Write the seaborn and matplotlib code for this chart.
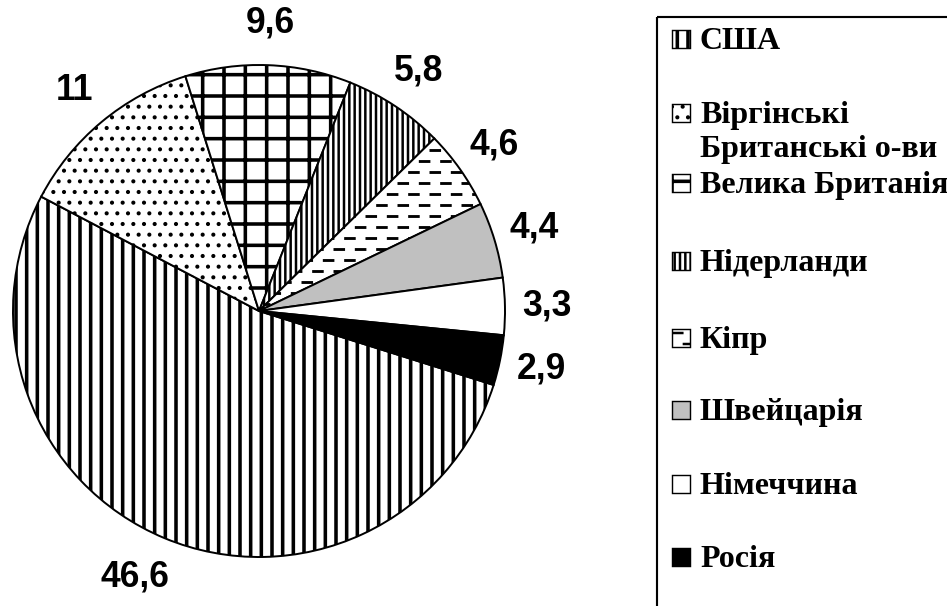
import matplotlib
matplotlib.use("Agg")
import matplotlib.pyplot as plt
from matplotlib.patches import Rectangle
import numpy as np
import seaborn as sns

# structure of foreign investment, % (legend order = slice order, clockwise)
countries = ["США", "Віргінські\nБританські о-ви", "Велика Британія", "Нідерланди",
             "Кіпр", "Швейцарія", "Німеччина", "Росія"]
shares = [46.6, 11, 9.6, 5.8, 4.6, 4.4, 3.3, 2.9]
value_labels = ["46,6", "11", "9,6", "5,8", "4,6", "4,4", "3,3", "2,9"]

# styles
fills = ["white", "white", "white", "white", "white", "#c0c0c0", "white", "black"]
hatches = ["||", "..", "+", "||||", None, None, None, None]
hatch_lw = [2.0, 1.1, 2.0, 1.4, 1.0, 1.0, 1.0, 1.0]
dashed = [False, False, False, False, True, False, False, False]

sns.set_theme(style="white")
plt.rcParams["lines.scale_dashes"] = False
plt.rcParams["hatch.linewidth"] = 1.5

DPI = 128
fig = plt.figure(figsize=(947 / DPI, 606 / DPI), dpi=DPI)
fig.patch.set_facecolor("white")


def dash_fill(ax, clip, x0, x1, y0, y1, step, dash, gap, lw):
    # brick-like rows of short dashes, clipped to a patch
    ys = np.arange(y0, y1, step)
    for k, off in enumerate([0, (dash + gap) / 2]):
        lc = ax.hlines(ys[k::2], x0, x1, colors="black", linewidth=lw,
                       linestyles=[(off, (dash, gap))])
        lc.set_capstyle("butt")
        lc.set_clip_path(clip)


def style_patch(p, i):
    if hatches[i]:
        p.set_hatch(hatches[i])
        if hasattr(p, "set_hatch_linewidth"):
            p.set_hatch_linewidth(hatch_lw[i])


# pie
ax = fig.add_axes([13 / 947, 49 / 606, 492 / 947, 492 / 606])
wedges, texts = ax.pie(
    shares, labels=value_labels, colors=fills, startangle=-17.5,
    counterclock=False, labeldistance=1.17,
    wedgeprops=dict(edgecolor="black", linewidth=1.1),
    textprops=dict(fontfamily="Liberation Sans", fontweight="bold",
                   fontsize=20, color="black"))
for t in texts:
    t.set_ha("center")
# Excel pushed the big label a little further out
x, y = texts[0].get_position()
texts[0].set_position((x * 1.12, y))
for i, w in enumerate(wedges):
    style_patch(w, i)
    if dashed[i]:
        dash_fill(ax, w, -1, 1, -1, 1, 11 / 246, 6.5, 5.5, 1.6)
ax.set_xlim(-1, 1)
ax.set_ylim(-1, 1)
ax.set_aspect("equal")
ax.axis("off")

# legend, drawn by hand in pixel units
lax = fig.add_axes([0, 0, 1, 1])
lax.set_xlim(0, 947)
lax.set_ylim(606, 0)
lax.axis("off")
lax.set_facecolor("none")
lax.add_patch(Rectangle((657, 17), 400, 700, fill=False, edgecolor="black",
                        linewidth=1.2))

row_base = [49, 123, 193, 271, 348, 420, 494, 567]
for i, (name, b) in enumerate(zip(countries, row_base)):
    sq = Rectangle((672, b - 19), 18, 18, facecolor=fills[i], edgecolor="black",
                   linewidth=0.8)
    lax.add_patch(sq)
    style_patch(sq, i)
    if dashed[i]:
        dash_fill(lax, sq, 672, 690, b - 15, b, 11, 6.5, 5.5, 1.4)
    for j, line in enumerate(name.split("\n")):
        lax.text(700, b + j * 34, line, fontfamily="Liberation Serif",
                 fontweight="bold", fontsize=18, va="baseline", ha="left",
                 color="black")

fig.savefig("out.png", dpi=DPI, facecolor="white")
